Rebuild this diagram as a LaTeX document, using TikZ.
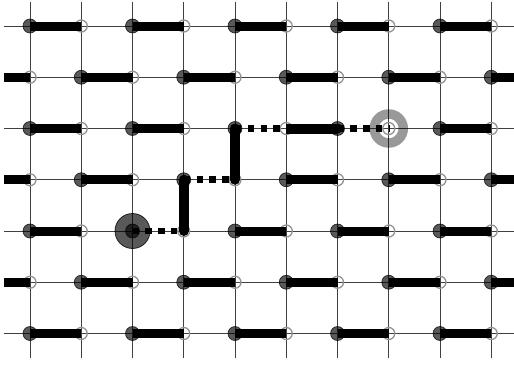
\documentclass[tikz,border=0pt]{standalone}
\begin{document}
\begin{tikzpicture}[x=51.25pt,y=51.25pt,
  gridline/.style={draw=black!75,line width=1pt},
  dimer/.style={line width=9pt,line cap=butt},
  newdimer/.style={line width=10pt,line cap=round},
  removed/.style={line width=6.6pt,dash pattern=on 6.4pt off 6.4pt,line cap=butt},
  fullsite/.style={fill=black,fill opacity=0.65,draw=black,draw opacity=0.75,line width=0.7pt},
  emptysite/.style={draw=black!42,line width=1.3pt},
  startsite/.style={fill=black,fill opacity=0.65,draw=black,draw opacity=0.8,line width=0.8pt},
  endring/.style={draw=black,draw opacity=0.4,line width=9.5pt},
  ]
\clip (-0.5854,0.5073) rectangle (9.4439,-6.6341);
\foreach \i in {0,...,9}{\foreach \j in {0,...,6}{\coordinate (s-\i-\j) at (\i,-\j);}}
\foreach \j in {0,...,6}{\coordinate (L-\j) at (-0.507,-\j); \coordinate (R-\j) at (9.7,-\j);}
\foreach \i in {0,...,9}{\coordinate (T-\i) at (\i,0.47); \coordinate (B-\i) at (\i,-6.48);}
% grid
\foreach \j in {0,...,6}{\draw[gridline] (L-\j) -- (R-\j);}
\foreach \i in {0,...,9}{\draw[gridline] (T-\i) -- (B-\i);}
% start defect
\draw[startsite] (s-2-4) circle[radius=17.5pt];
% sites
\foreach \i in {0,...,9}{\foreach \j in {0,...,6}{
  \pgfmathtruncatemacro{\sitepar}{mod(\i+\j,2)}
  \ifnum\sitepar=0
    \draw[fullsite] (s-\i-\j) circle[radius=7pt];
  \else
    \draw[emptysite] (s-\i-\j) circle[radius=6pt];
  \fi
}}
% dimers
\foreach \a/\b/\j in {0/1/0,2/3/0,4/5/0,6/7/0,8/9/0,
                      0/1/2,2/3/2,8/9/2,
                      0/1/4,4/5/4,6/7/4,8/9/4,
                      0/1/6,2/3/6,4/5/6,6/7/6,8/9/6,
                      1/2/1,3/4/1,5/6/1,7/8/1,
                      1/2/3,5/6/3,7/8/3,
                      1/2/5,3/4/5,5/6/5,7/8/5}
  {\draw[dimer] (s-\a-\j) -- (s-\b-\j);}
\foreach \j in {1,3,5}{\draw[dimer] (L-\j) -- (s-0-\j); \draw[dimer] (s-9-\j) -- (R-\j);}
% worm path: new dimers
\draw[newdimer] (s-3-3) -- (s-3-4);
\draw[newdimer] (s-4-2) -- (s-4-3);
\draw[dimer,line width=10pt] (s-5-2) -- (s-6-2);
\fill (s-6-2) circle[radius=5pt];
% removed dimers
\draw[removed] (s-2-4) -- (s-3-4);
\draw[removed] (s-3-3) -- (s-4-3);
\draw[removed] (s-4-2) -- (s-5-2);
\draw[removed] (s-6-2) -- (s-7-2);
% end defect
\draw[endring] (s-7-2) circle[radius=14.5pt];
\end{tikzpicture}
\end{document}
